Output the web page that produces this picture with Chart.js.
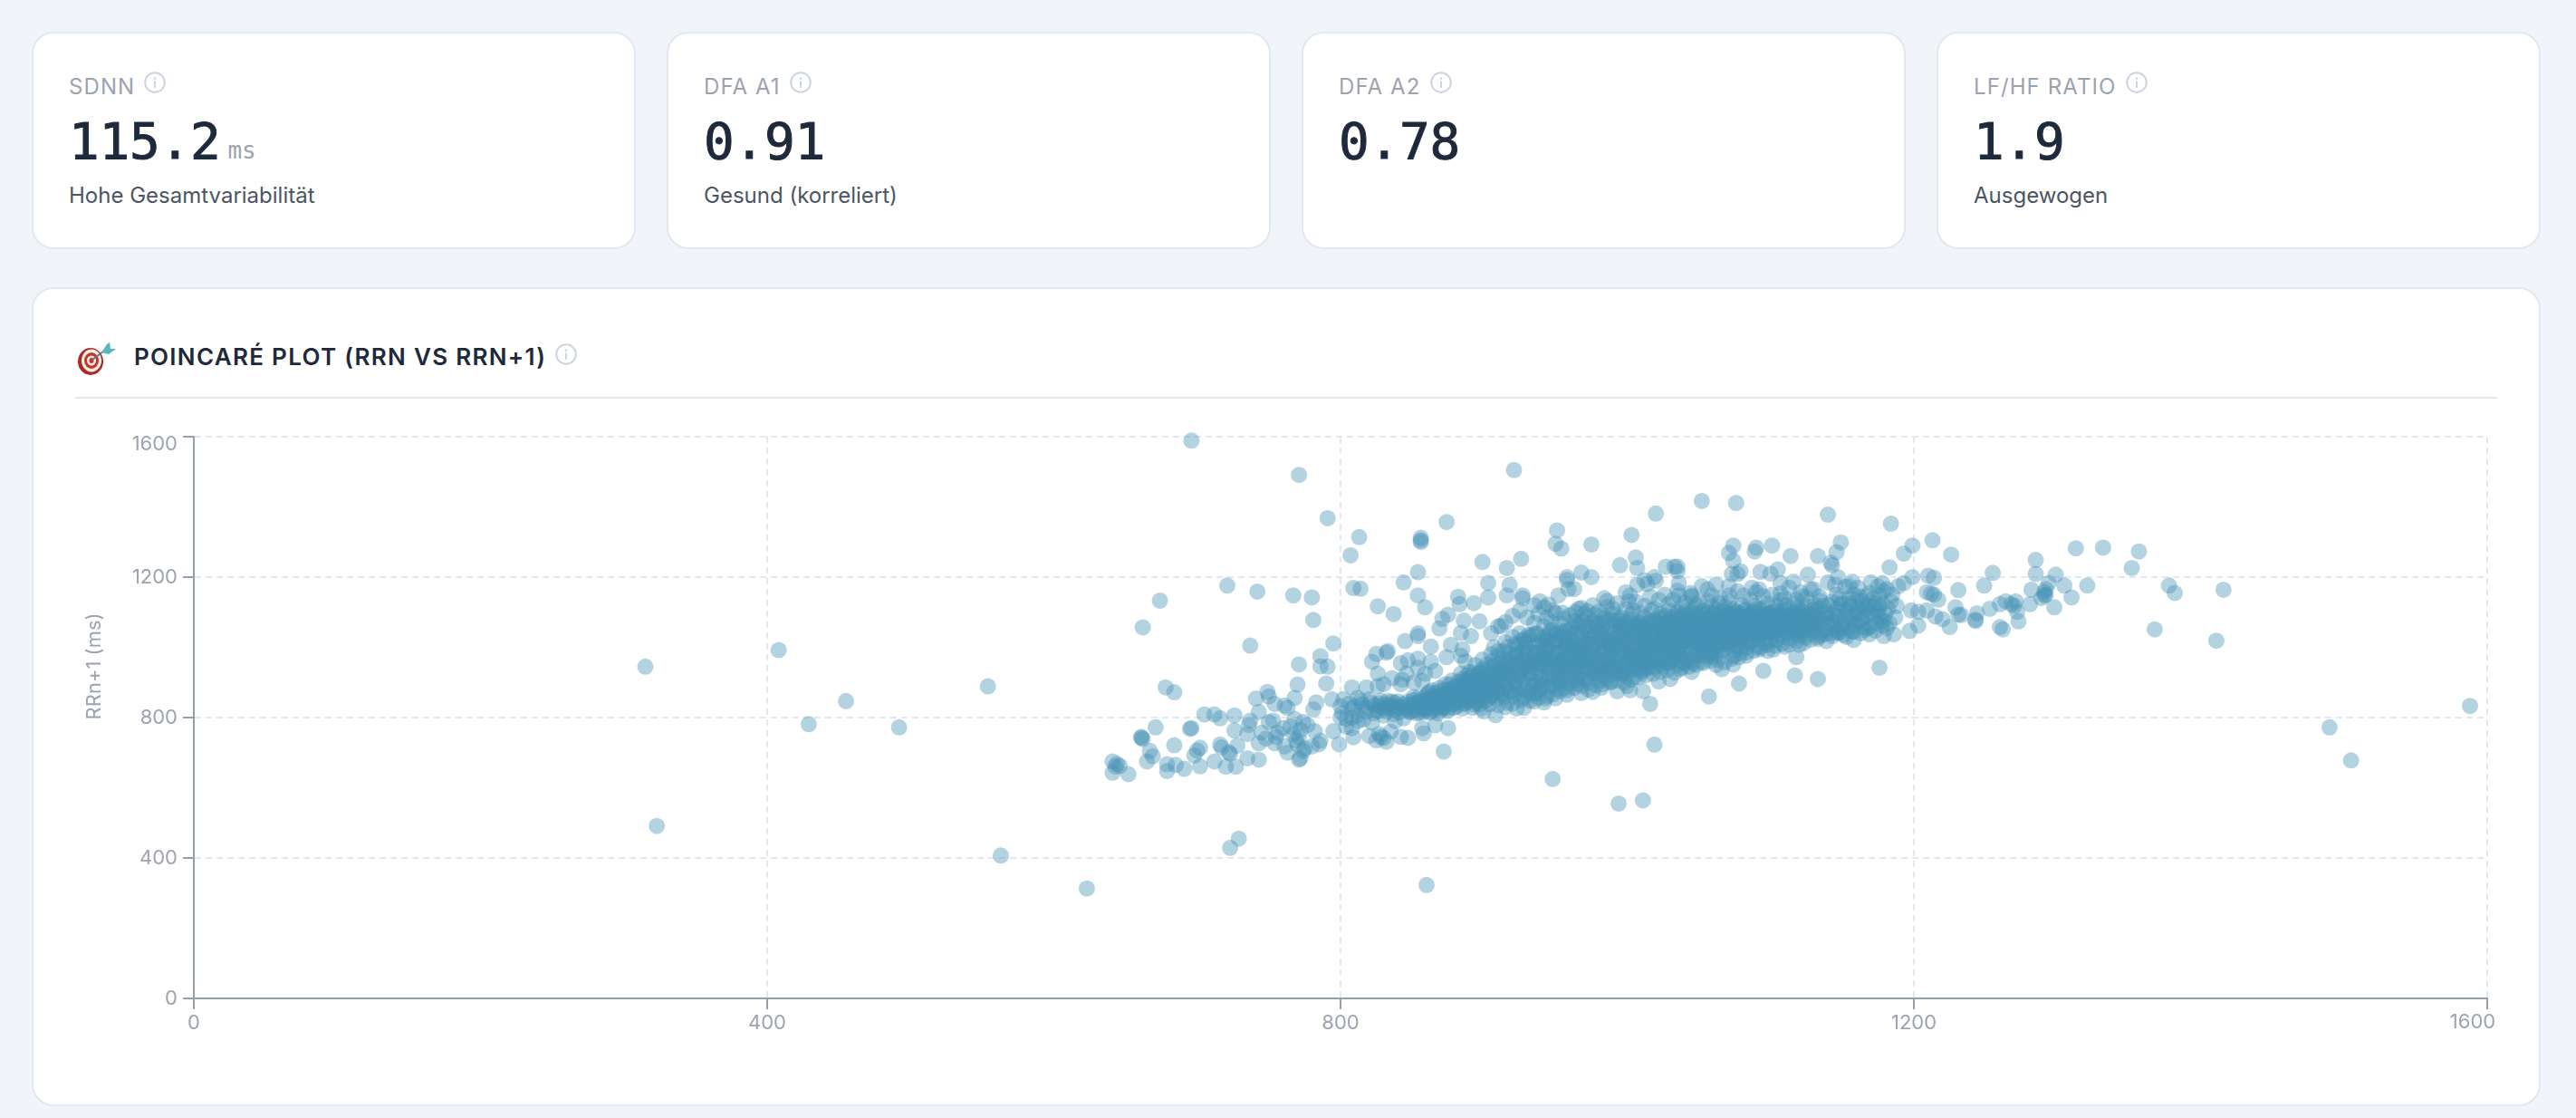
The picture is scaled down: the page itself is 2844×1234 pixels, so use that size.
<!DOCTYPE html>
<html lang="de">
<head>
<meta charset="utf-8">
<title>Poincaré Plot</title>
<script src="https://cdn.jsdelivr.net/npm/chart.js@4"></script>
<style>
  html, body { margin: 0; padding: 0; background: #f1f5f9; width: 2844px; height: 1234px; overflow: hidden; font-family: Inter, sans-serif; }
  .card { position: absolute; top: 35px; width: 667px; height: 240px; box-sizing: border-box; background: #fff; border: 2px solid #e2e8f0; border-radius: 24px; }
  .label { position: absolute; left: 39px; top: 44px; font-size: 24px; line-height: 30px; letter-spacing: 1.1px; color: #9ca3af; white-space: nowrap; }
  .value { position: absolute; left: 39px; top: 86px; font-family: "DejaVu Sans Mono", monospace; font-size: 56px; line-height: 66px; color: #1e293b; -webkit-text-stroke: 1px #1e293b; letter-spacing: -0.2px; white-space: nowrap; }
  .unit { font-size: 26px; color: #9ca3af; -webkit-text-stroke: 0; margin-left: 8px; }
  .sub { position: absolute; left: 39px; top: 164px; font-size: 24px; line-height: 30px; color: #4b5563; white-space: nowrap; }
  .info { position: absolute; width: 24px; height: 24px; }
  .panel { position: absolute; left: 35px; top: 317px; width: 2770px; height: 904px; box-sizing: border-box; background: #fff; border: 2px solid #e2e8f0; border-radius: 24px; }
  .title { position: absolute; left: 148px; top: 378px; font-size: 26px; line-height: 32px; font-weight: 600; letter-spacing: 1.3px; color: #1e293b; white-space: nowrap; }
  .rule { position: absolute; left: 83px; top: 438px; width: 2674px; height: 2px; background: #e2e8f0; }
  canvas { position: absolute; left: 83px; top: 450px; }
</style>
</head>
<body>
<div class="card" style="left:35px"><div class="label">SDNN</div><svg class="info" style="left:122px;top:42px" viewBox="0 0 24 24"><use href="#i"/></svg><div class="value">115.2<span class="unit">ms</span></div><div class="sub">Hohe Gesamtvariabilität</div></div>
<div class="card" style="left:736px"><div class="label">DFA A1</div><svg class="info" style="left:134px;top:42px" viewBox="0 0 24 24"><use href="#i"/></svg><div class="value">0.91</div><div class="sub">Gesund (korreliert)</div></div>
<div class="card" style="left:1437px"><div class="label">DFA A2</div><svg class="info" style="left:140px;top:42px" viewBox="0 0 24 24"><use href="#i"/></svg><div class="value">0.78</div></div>
<div class="card" style="left:2138px"><div class="label">LF/HF RATIO</div><svg class="info" style="left:207px;top:42px" viewBox="0 0 24 24"><use href="#i"/></svg><div class="value">1.9</div><div class="sub">Ausgewogen</div></div>

<div class="panel"></div>
<svg style="position:absolute;left:84px;top:376px" width="46" height="38" viewBox="0 0 46 38">
  <ellipse cx="16" cy="23" rx="14" ry="15" fill="#a92c25"/>
  <ellipse cx="17" cy="22" rx="11" ry="12.5" fill="#f4efe9"/>
  <ellipse cx="17" cy="22" rx="8" ry="9" fill="#c9352c"/>
  <ellipse cx="17" cy="22" rx="5" ry="5.5" fill="#f4efe9"/>
  <ellipse cx="17" cy="22" rx="2.5" ry="3" fill="#c9352c"/>
  <path d="M18 21 L34 9" stroke="#5a7d86" stroke-width="2"/>
  <path d="M28 13 L34 4 L37 2 L38 9 L44 9 L36 15 Z" fill="#5bb5bd"/>
</svg>
<div class="title">POINCARÉ PLOT (RRN VS RRN+1)</div>
<svg class="info" style="left:613px;top:379px" viewBox="0 0 24 24"><use href="#i"/></svg>
<div class="rule"></div>
<svg width="0" height="0" style="position:absolute"><defs><g id="i"><circle cx="12" cy="12" r="10.8" fill="none" stroke="#cbd5e1" stroke-width="2"/><circle cx="12" cy="7.6" r="1.3" fill="#cbd5e1"/><rect x="11" y="10.4" width="2" height="7.4" fill="#cbd5e1"/></g></defs></svg>

<canvas id="poincareChart" width="2680" height="750"></canvas>

<script>
const tickValues = [0, 400, 800, 1200, 1600];

// isolated beats far away from the main cloud
const rrOutliers = [[315,945],[323,491],[408,992],[429,781],[455,847],[492,772],[554,889],[563,407],[623,313],[860,323],[1490,772],[1505,678],[1588,833],
  [696,1589],[771,1491],[791,1368],[921,1505],[1052,1417],[1076,1411],[1020,1381],[874,1357],[813,1314],[807,1262],[856,1305],[856,1312],[856,1300],
  [729,455],[723,429],[948,625],[994,555],[1011,564],[1019,723],[872,703],[1140,1378],[1184,1352],[1368,1051],[1411,1019],[1416,1164],[1378,1176],[1382,1155],[1352,1226],[1357,1273],[1332,1284],[1313,1282],[1176,942]];

// upper scatter left of the band
const rrUpperLeft = [[951,1333],[950,1295],[954,1281],[1003,1320],[975,1293],[899,1243],[926,1252],[916,1226],[854,1214],[844,1185],[809,1169],[814,1167],[721,1176],[742,1159],[674,1133],[662,1057],[767,1148],[780,1142],[781,1078],[737,1005],
  [854,1148],[859,1114],[826,1117],[837,1095],[903,1183],[903,1142],[882,1144],[883,1123],[893,1126],[918,1178],[916,1148],[927,1148],[927,1140],[897,1074],[886,1076],[875,1093],[871,1081],[869,1054],[912,1061],[884,1041],[891,1032],[854,1032],[845,1018],[854,1040],[863,1002],[877,1007],[885,994],[874,972],[884,976],[887,960],
  [958,1200],[968,1213],[975,1200],[958,1192],[959,1166],[963,1166],[984,1140],[986,1132],[952,1148],[939,1131],[935,1120],[942,1114],[964,1101],[977,1093],[995,1234],[1006,1256],[1007,1226],[1027,1230],[1033,1230],[1035,1217],[1019,1200],[1012,1191],[1007,1178],[999,1157],[1036,1183],[1017,1105],[1001,1131],[1029,1123],[1036,1148],[1045,1148],[1052,1174],[1062,1179],[1059,1148],[1035,1230],[1035,1161],[1020,1190],[1014,1180],[1002,1148],
  [945,1122],[948,1106],[955,1098],[968,1112],[972,1104],[990,1110],[1004,1105],[1012,1118],[1022,1135],[1040,1128],[1048,1120],[1056,1132],[1064,1126]];

// scattered lower left tail
const rrLowCluster = [[795,1011],[786,975],[771,951],[786,946],[791,945],[790,897],[770,894],[768,856],[783,843],[781,823],[794,852],[678,886],[684,872],[749,873],[741,854],[750,860],[754,839],[761,834],[763,828],[743,816],[705,809],[712,809],[716,798],[726,806],[737,791],[736,779],[671,772],[695,768],[696,770],[661,742],[661,745],[662,739],[684,721],[726,763],[735,753],[750,787],[753,791],[745,757],[768,796],[774,787],[777,779],[782,761],[786,734],[667,705],[665,675],[669,690],[702,714],[700,706],[698,692],[716,723],[717,715],[722,701],[723,697],[728,720],[735,684],[743,680],[720,660],[727,660],[712,675],[702,661],[691,654],[679,667],[679,648],[685,665],[641,675],[646,662],[643,660],[641,643],[652,639],[644,668],
  [743,727],[754,727],[761,718],[772,684],[771,680],[770,723],[756,757],[767,753],[771,744],[780,718],[785,724],[755,745],[748,740],[760,770],[765,775],[772,765],[769,735],[774,705],[775,712],[763,700],
  [795,761],[799,724],[809,744],[804,774],[808,770],[820,748],[827,753],[832,731],[828,745],[847,742],[857,770],[875,770],[866,778],[858,755],[830,742],[835,760],[812,790],[800,800],[842,745],[825,735]];

// fringe right above and below the entry of the dense band
const rrBandEdge = [[808,886],[818,886],[826,890],[830,895],[822,959],[826,925],[832,985],[825,981],[833,989],[842,955],[847,963],[854,968],[863,959],[843,908],[846,925],[854,942],[859,925],[866,933],[842,895],[851,900],[836,912],[857,905],
  [802,852],[801,813],[812,856],[820,852],[804,796],[800,832],[808,825],[815,838],[823,812],[827,840],[830,825],[832,818],[834,836],[836,845],[838,822],[840,832],[828,830],[833,848],[837,810],[841,815],[825,822],[818,828],[812,806],[808,800],[816,794],[822,786],[838,790],[844,798],
  [1016,839],[1011,875],[908,807],[923,826],[928,828],[942,843],[958,865],[976,873],[993,875],[1002,878],[1022,903],[1057,860],[900,818],[915,830],[935,846],[950,855],[968,870],[982,885],[1000,890],[1030,910],[1045,930],[1037,938],[1052,959],[1074,951],[1083,976],[1092,994],[1102,994],[1110,1002],[1118,972],[1120,1007],[1078,897],[1095,933],[1117,920],[1133,910],[1066,938],[1062,950]];

// loose marks hugging the top of the band
const rrFringeTop = [[905,1040],[910,1060],[915,1072],[920,1090],[925,1105],[930,1085],[935,1070],[938,1095],[942,1060],[944,1085],[947,1072],[950,1098],[953,1068],[956,1082],[960,1092],[963,1075],[966,1110],[970,1095],[973,1085],[976,1120],[980,1102],[983,1090],[986,1115],[990,1095],[993,1125],[996,1085],[999,1108],[1003,1092],[1006,1130],[1009,1098],[1012,1085],[1016,1145],[1019,1110],[1023,1095],[1026,1150],[1029,1105],[1032,1135],[1035,1100],[1038,1118],[1041,1105],[1044,1155],[1047,1112],[1050,1130],[1053,1105],[1056,1165],[1059,1118],[1062,1108],[1065,1140],[1068,1115],[1071,1130],[1074,1110],[1077,1160],[1080,1120],[1083,1108],[1086,1135],[1089,1118],[1092,1165],[1095,1112],[1098,1125],[1101,1150],[1104,1118],[1107,1135],[1110,1120],[1113,1170],[1116,1125],[1119,1115],[1122,1145],[1125,1118],[1128,1165],[1131,1122],[1134,1145],[1137,1118],[1140,1185],[1143,1130],[1146,1150],[1149,1122],[1152,1172],[1155,1125],[1158,1150],[1161,1170],[1164,1118],[1167,1145],[1170,1185],[1173,1125]];

// loose marks under the band and at its left entry
const rrFringeBottom = [[885,826],[892,828],[898,826],[904,838],[910,835],[916,842],[920,840],[926,850],[932,848],[938,856],[943,855],[948,866],[953,875],[958,878],[963,885],[968,890],[973,880],[978,892],[983,895],[988,900],[993,905],[998,900],[1003,908],[1008,915],[1013,920],[1018,925],[1023,930],[1028,935],[1033,928],[1038,942],[1043,945],[1048,950],[1053,955],[1058,962],[1063,965],[1068,958],[1073,968],[1078,972],[1083,985],[1088,990],[1093,1000],[1098,990],[1103,1005],[1108,1010],[1113,1008],[1118,1018],[1123,1012],[1128,1022],[1133,1030],[1138,1038],[1143,1032],[1148,1042],[1153,1030],[1158,1045],[1163,1040],[1168,1055],[1173,1048],[1178,1062],
  [806,840],[810,832],[814,848],[818,818],[821,842],[824,835],[828,848],[831,838],[834,826],[838,842],[841,828],[844,838],[836,830],[840,846],[826,818],[830,806]];

// the solid part of the cloud, read left to right along the band
const rrCore = [[846,822],[848,838],[849,815],[851,850],[852,829],[853,812],[854,844],[855,860],[856,824],[857,836],[858,816],[859,851],
  [860,830],[861,869],[862,814],[863,845],[864,878],[865,822],[866,858],[867,838],[868,812],[869,884],[870,850],[871,828],
  [872,866],[873,895],[874,836],[875,819],[876,880],[877,852],[878,906],[879,828],[880,870],[881,842],[882,892],[883,858],
  [884,925],[885,838],[886,880],[887,905],[888,862],[889,845],[890,930],[891,892],[892,872],[893,838],[884,855],[887,840],[889,912],[892,918],
  [894,950],[895,860],[896,905],[897,838],[898,885],[899,965],[900,925],[901,848],[902,872],[903,940],[904,900],[905,980],[895,842],[898,930],[901,890],[904,855],
  [906,862],[907,945],[908,912],[909,852],[910,990],[911,880],[912,925],[913,968],[914,858],[915,1015],[916,895],[917,945],[918,872],[907,1000],[909,900],[911,955],[913,870],[915,935],[917,985],[919,915],
  [920,1030],[921,860],[922,905],[923,960],[924,880],[925,1040],[926,930],[927,992],[928,858],[929,1015],[930,895],[931,950],[932,870],[921,975],[923,1005],[925,920],[927,885],[929,945],[931,1035],[933,910],[922,868],[926,1020],[928,965],[930,1000],
  [934,865],[935,985],[936,1040],[937,920],[938,875],[939,1010],[940,950],[941,895],[942,1030],[943,968],[944,862],[945,925],[946,1045],[935,905],[937,955],[939,882],[941,1000],[943,1022],[945,940],[934,1035],[936,870],[938,990],[940,912],[942,975],[944,1005],[946,888],
  [947,935],[948,1050],[949,895],[950,985],[951,1015],[952,905],[953,960],[954,1040],[955,920],[956,1000],[957,885],[958,945],[959,1028],[960,972],[948,915],[950,1035],[952,955],[954,898],[956,1045],[958,1010],[949,970],[951,882],[953,1022],[955,945],[957,992],[959,912],[960,1048],
  [961,925],[962,1055],[963,985],[964,905],[965,1035],[966,955],[967,1068],[968,915],[969,1005],[970,975],[971,935],[972,1045],[973,900],[974,1020],[975,960],[962,1015],[964,1072],[966,895],[968,1040],[970,945],[972,990],[974,1060],[963,925],[965,960],[967,1000],[969,1075],[971,912],[973,1030],
  [976,1075],[977,925],[978,1005],[979,960],[980,1050],[981,905],[982,985],[983,1062],[984,935],[985,1025],[986,910],[987,975],[988,1078],[989,950],[990,1040],[977,1035],[979,915],[981,1068],[983,995],[985,945],[987,1015],[989,902],[976,970],[978,1058],[980,930],[982,1022],[984,1082],[986,955],[988,1002],[990,920],
  [991,1075],[992,965],[993,1035],[994,925],[995,1005],[996,1062],[997,945],[998,985],[999,918],[1000,1050],[1001,975],[1002,1078],[1003,935],[1004,1020],[1005,955],[992,1010],[994,1082],[996,1040],[998,930],[1000,1000],[1002,960],[1004,1065],[991,940],[993,995],[995,1055],[997,922],[999,1028],[1001,1070],[1003,985],[1005,915],
  [1006,1040],[1007,950],[1008,1070],[1009,990],[1010,930],[1011,1020],[1012,965],[1013,1055],[1014,940],[1015,1005],[1016,1075],[1017,975],[1018,1035],[1019,945],[1020,1012],[1007,1062],[1009,935],[1011,985],[1013,1025],[1015,955],[1017,1048],[1019,1078],[1006,970],[1008,1015],[1010,1060],[1012,938],[1014,1000],[1016,960],[1018,1068],[1020,980],
  [1021,1045],[1022,960],[1023,1085],[1024,1010],[1025,945],[1026,1060],[1027,985],[1028,1030],[1029,955],[1030,1078],[1031,1000],[1032,970],[1033,1050],[1034,1090],[1035,950],[1022,1022],[1024,975],[1026,1002],[1028,1070],[1030,958],[1032,1038],[1034,990],[1021,1072],[1023,950],[1025,1040],[1027,1090],[1029,1015],[1031,965],[1033,1080],[1035,1025],
  [1036,1065],[1037,975],[1038,1095],[1039,1015],[1040,955],[1041,1048],[1042,1085],[1043,990],[1044,1030],[1045,962],[1046,1072],[1047,1005],[1048,1098],[1049,1042],[1050,978],[1037,1035],[1039,1082],[1041,968],[1043,1060],[1045,1018],[1047,1090],[1049,985],[1036,998],[1038,958],[1040,1075],[1042,1025],[1044,1100],[1046,955],[1048,1052],[1050,1012],
  [1051,1095],[1052,985],[1053,1045],[1054,1075],[1055,975],[1056,1020],[1057,1100],[1058,1060],[1059,990],[1060,1035],[1061,1088],[1062,978],[1063,1010],[1064,1068],[1065,1048],[1052,1030],[1054,1002],[1056,1082],[1058,982],[1060,1098],[1062,1055],[1064,995],[1051,1065],[1053,1015],[1055,1092],[1057,1040],[1059,972],[1061,1025],[1063,1078],[1065,1005],
  [1066,1100],[1067,990],[1068,1060],[1069,1030],[1070,1085],[1071,1000],[1072,1045],[1073,1105],[1074,975],[1075,1070],[1076,1018],[1077,1092],[1078,1038],[1079,985],[1080,1058],[1067,1078],[1069,1008],[1071,1095],[1073,1050],[1075,992],[1077,1025],[1079,1082],[1066,1040],[1068,1102],[1070,1015],[1072,1068],[1074,1035],[1076,1100],[1078,1000],[1080,1088],
  [1081,1030],[1082,1105],[1083,1000],[1084,1065],[1085,1090],[1086,1015],[1087,1048],[1088,1100],[1089,1028],[1090,1075],[1091,1002],[1092,1058],[1093,1108],[1094,1038],[1095,1085],[1096,1012],[1097,1070],[1098,1045],[1099,1098],[1100,1022],[1082,1050],[1084,1020],[1086,1080],[1088,1040],[1090,1110],[1092,1025],[1094,1068],[1096,1095],[1098,1008],[1100,1060],
  [1101,1085],[1102,1040],[1103,1105],[1104,1020],[1105,1072],[1106,1052],[1107,1095],[1108,1030],[1109,1080],[1110,1108],[1111,1045],[1112,1062],[1113,1025],[1114,1098],[1115,1075],[1116,1040],[1117,1055],[1118,1105],[1119,1032],[1120,1085],[1121,1065],[1122,1042],[1123,1100],[1124,1028],[1125,1078],[1126,1050],[1127,1095],[1128,1038],[1129,1070],[1130,1108],
  [1131,1045],[1132,1090],[1133,1060],[1134,1112],[1135,1035],[1136,1078],[1137,1100],[1138,1050],[1139,1085],[1140,1068],[1141,1120],[1142,1040],[1143,1095],[1144,1058],[1145,1075],[1146,1110],[1147,1048],[1148,1088],[1149,1065],[1150,1125],[1151,1035],[1152,1080],[1153,1100],[1154,1055],[1155,1072],[1156,1118],[1157,1045],[1158,1092],[1159,1062],[1160,1105]];

// more beats in the same band, where single marks can no longer be told apart
const rrCoreDense = [[845,828],[847,846],[848,818],[850,835],[851,858],[852,821],[853,840],[855,814],[856,850],[857,830],
  [859,824],[860,862],[861,840],[862,873],[863,818],[864,852],[865,832],[866,868],[867,826],[868,846],[869,874],[870,820],
  [871,860],[872,838],[873,880],[874,848],[875,826],[876,895],[877,866],[878,840],[879,884],[880,856],[881,832],[882,902],
  [883,874],[884,846],[885,910],[886,856],[887,888],[888,920],[889,866],[890,850],[891,904],[892,880],[893,928],[894,862],[895,892],[896,848],
  [897,912],[898,870],[899,938],[900,856],[901,900],[902,950],[903,880],[904,922],[905,862],[906,962],[907,892],[908,932],[909,874],[910,975],
  [911,908],[912,868],[913,945],[914,990],[915,885],[916,925],[917,1002],[918,960],[919,875],[920,940],[921,898],[922,1010],[923,982],[924,918],[925,868],
  [926,965],[927,905],[928,1022],[929,878],[930,985],[931,928],[932,1030],[933,952],[934,890],[935,1008],[936,940],[937,1038],[938,900],[939,972],[940,882],
  [941,1020],[942,945],[943,905],[944,995],[945,1035],[946,915],[947,970],[948,888],[949,1012],[950,950],[951,1042],[952,925],[953,988],[954,910],[955,1028],[956,965],
  [957,1048],[958,930],[959,1002],[960,895],[961,980],[962,1038],[963,945],[964,1012],[965,915],[966,1058],[967,968],[968,935],[969,1025],[970,990],[971,1060],[972,910],
  [973,955],[974,1040],[975,925],[976,1008],[977,972],[978,1068],[979,938],[980,1018],[981,945],[982,1048],[983,925],[984,988],[985,1072],[986,935],[987,1032],[988,962],
  [989,1060],[990,935],[991,1005],[992,1045],[993,958],[994,1075],[995,975],[996,930],[997,1022],[998,1068],[999,950],[1000,1012],[1001,942],[1002,1038],[1003,1060],[1004,975],
  [1005,1032],[1006,945],[1007,1002],[1008,1052],[1009,968],[1010,1072],[1011,950],[1012,1030],[1013,990],[1014,1062],[1015,958],[1016,1018],[1017,1075],[1018,942],[1019,1048],[1020,995],
  [1021,962],[1022,1068],[1023,1010],[1024,1050],[1025,978],[1026,1082],[1027,955],[1028,1042],[1029,1000],[1030,1058],[1031,1085],[1032,970],[1033,1028],[1034,1065],[1035,980],[1036,1045],
  [1037,1085],[1038,985],[1039,1048],[1040,1020],[1041,965],[1042,1060],[1043,1092],[1044,1002],[1045,1068],[1046,1035],[1047,975],[1048,1080],[1049,1012],[1050,1058],[1051,1025],[1052,1090],
  [1053,995],[1054,1048],[1055,1068],[1056,1005],[1057,1085],[1058,1030],[1059,1062],[1060,990],[1061,1050],[1062,1095],[1063,1035],[1064,1008],[1065,1080],[1066,1022],[1067,1058],[1068,1090],
  [1069,1048],[1070,1010],[1071,1070],[1072,1095],[1073,1020],[1074,1060],[1075,1085],[1076,1040],[1077,1005],[1078,1072],[1079,1098],[1080,1030],[1081,1062],[1082,1088],[1083,1045],[1084,1015],
  [1085,1070],[1086,1095],[1087,1025],[1088,1060],[1089,1082],[1090,1040],[1091,1098],[1092,1070],[1093,1035],[1094,1088],[1095,1052],[1096,1075],[1097,1030],[1098,1092],[1099,1062],[1100,1045],
  [1101,1100],[1102,1068],[1103,1048],[1104,1088],[1105,1035],[1106,1078],[1107,1058],[1108,1100],[1109,1045],[1110,1072],[1111,1092],[1112,1040],[1113,1060],[1114,1082],[1115,1052],[1116,1098],
  [1117,1070],[1118,1045],[1119,1090],[1120,1058],[1121,1102],[1122,1075],[1123,1048],[1124,1085],[1125,1062],[1126,1100],[1127,1052],[1128,1078],[1129,1092],[1130,1060],[1131,1072],[1132,1104],
  [1134,1078],[1137,1060],[1140,1098],[1143,1075],[1146,1090],[1149,1055],[1152,1108],[1155,1085],[1158,1068],[1161,1095],[1164,1078],[1167,1110],[1170,1060],[1173,1090],[1176,1120],[1179,1075]];

// centre line of the band
const rrCoreCentre = [[858,838],[862,846],[865,856],[868,840],[871,852],[874,866],[877,858],[880,874],[883,862],[886,890],[889,878],[892,898],[895,884],[898,908],[901,892],[904,918],[907,902],[910,930],[913,910],[916,945],[919,920],[922,955],[925,935],[928,975],[931,945],[934,960],[937,985],[940,948],[943,975],[946,1000],[949,960],[952,985],[955,945],[958,1010],[961,965],[964,990],[967,955],[970,1015],[973,975],[976,995],[979,945],[982,1025],[985,985],[988,1005],[991,960],[994,1030],[997,990],[1000,1012],[1003,970],[1006,1035],[1009,1000],[1012,1018],[1015,985],[1018,1040],[1021,1005],[1024,1028],[1027,995],[1030,1048],[1033,1012],[1036,1030],[1039,1000],[1042,1052],[1045,1025],[1048,1040],[1051,1010],[1054,1060],[1057,1030],[1060,1050],[1063,1022],[1066,1068],[1069,1038],[1072,1055],[1075,1030],[1078,1065],[1081,1042],[1084,1070],[1087,1050],[1090,1062],[1093,1078],[1096,1048],[1099,1072],[1102,1055],[1105,1085],[1108,1062],[1111,1075],[1114,1058],[1117,1088],[1120,1070],
  [860,826],[863,858],[866,842],[869,862],[872,828],[875,878],[878,850],[881,890],[884,868],[887,852],[890,905],[893,872],[896,925],[899,888],[902,912],[905,878],[908,950],[911,925],[914,900],[917,968],[920,915],[923,980],[926,940],[929,1000],[932,925],[935,965],[938,945],[941,975],[944,1015],[947,955],[950,1020],[953,930],[956,975],[959,950],[962,1002],[965,938],[968,988],[971,962],[974,1010],[977,945],[980,988],[983,1035],[986,968],[989,1012],[992,948],[995,992],[998,1038],[1001,965],[1004,1000],[1007,1048],[1010,980],[1013,1008],[1016,1042],[1019,968],[1022,1012],[1025,1060],[1028,990],[1031,1030],[1034,1072],[1037,1005],[1040,1052],[1043,1025],[1046,1062],[1049,1000],[1052,1042],[1055,1078],[1058,1015],[1061,1068],[1064,1040],[1067,1015],[1070,1072],[1073,1040],[1076,1062],[1079,1020],[1082,1078],[1085,1040],[1088,1085],[1091,1052],[1094,1070],[1097,1088],[1100,1050],[1103,1075],[1106,1095],[1109,1060],[1112,1088],[1115,1068],[1118,1082],[1121,1050]];

// above the band and the thinning right tail
const rrUpperRight = [[1074,1290],[1071,1269],[1089,1273],[1090,1284],[1101,1290],[1114,1260],[1133,1260],[1149,1299],[1146,1271],[1143,1234],[1142,1241],[1074,1247],[1073,1209],[1079,1217],[1077,1209],[1093,1215],[1100,1210],[1105,1222],[1126,1207],[1116,1187],[1107,1183],[1130,1166],[1107,1153],[1121,1157],[1147,1200],[1145,1178],[1157,1187],[1155,1174],
  [1071,1174],[1090,1157],[1081,1148],[1087,1170],[1045,1144],[1071,1148],[1095,1145],[1110,1140],[1118,1135],[1125,1142],[1135,1132],[1148,1138],[1160,1135],
  [1213,1305],[1199,1290],[1193,1267],[1226,1264],[1183,1228],[1210,1204],[1214,1198],[1199,1200],[1193,1183],[1189,1174],[1178,1183],[1209,1157],[1212,1153],[1214,1150],[1217,1136],[1231,1163],[1255,1212],[1249,1176],
  [1285,1249],[1285,1209],[1299,1207],[1294,1183],[1305,1176],[1282,1164],[1321,1176],[1310,1142],[1298,1114],[1281,1123],[1291,1157],[1292,1150],[1291,1148],[1292,1166],[1289,1140],
  [1264,1131],[1271,1131],[1268,1123],[1270,1118],[1260,1123],[1253,1110],[1273,1074],[1272,1101],[1260,1058],[1262,1051],[1243,1075],[1243,1079],[1244,1097],[1231,1093],[1229,1114],[1233,1092],[1225,1058],[1220,1080],[1215,1088],[1209,1105],[1203,1101],[1198,1105],[1203,1062],[1197,1047],[1186,1037],[1179,1032],[1169,1037],[1158,1021],[1164,1058],[1147,1041],[1139,1018],[1133,1024],
  [1176,1148],[1181,1166],[1175,1174],[1184,1131],[1188,1118],[1175,1105],[1176,1088],[1164,1131],[1155,1140],[1167,1088],[1161,1112],[1163,1078],[1166,1050],[1168,1120],[1170,1098],[1172,1140],[1174,1070],[1178,1125],[1180,1095],[1182,1110],[1185,1150],[1187,1085],[1183,1068],[1169,1155],[1172,1115],[1177,1075],[1179,1160],[1181,1055],[1165,1100],[1162,1145]];

const chartData = [...rrOutliers, ...rrLowCluster, ...rrUpperLeft, ...rrBandEdge, ...rrFringeTop, ...rrFringeBottom, ...rrCore, ...rrCoreDense, ...rrCoreCentre, ...rrUpperRight];

// labels at the axis ends sit inside the plot corner instead of centred on their tick,
// and the y title is placed above the middle of the axis
const edgeLabels = {
  id: 'edgeLabels',
  afterDraw(chart) {
    const { ctx, scales: { x, y } } = chart;
    ctx.save();
    ctx.font = '22px Inter';
    ctx.fillStyle = '#9ca3af';
    ctx.textBaseline = 'middle';
    ctx.textAlign = 'right';
    ctx.fillText('1600', x.getPixelForValue(0) - 18, y.getPixelForValue(1600) + 8);
    ctx.textAlign = 'center';
    ctx.fillText('1600', x.getPixelForValue(1600) - 16, y.getPixelForValue(0) + 26);
    ctx.translate(21, y.getPixelForValue(946));
    ctx.rotate(-Math.PI / 2);
    ctx.fillText('RRn+1 (ms)', 0, 0);
    ctx.restore();
  }
};

const axisBase = {
  min: 0,
  max: 1600,
  afterBuildTicks: scale => { scale.ticks = tickValues.map(value => ({ value })); },
  border: { color: '#94a0ae', width: 2, dash: [7, 5] },
  grid: { color: '#e2e8f0', lineWidth: 2, tickColor: '#94a0ae', tickWidth: 2, tickLength: 12, tickBorderDash: [] }
};

new Chart(document.getElementById('poincareChart'), {
  type: 'scatter',
  data: {
    datasets: [{
      label: 'RRn vs RRn+1',
      data: chartData.map(([x, y]) => ({ x, y })),
      backgroundColor: 'rgba(67, 145, 181, 0.4)',
      borderWidth: 0,
      pointRadius: 9,
      clip: false
    }]
  },
  options: {
    responsive: false,
    animation: false,
    devicePixelRatio: 1,
    layout: { padding: { top: 32, right: 17, left: 0, bottom: 0 } },
    plugins: { legend: { display: false }, tooltip: { enabled: false } },
    scales: {
      x: {
        ...axisBase,
        afterFit: scale => { scale.height = 98; },
        ticks: {
          color: '#9ca3af', font: { family: 'Inter', size: 22 }, padding: 2, maxRotation: 0, autoSkip: false,
          callback: value => (value === 1600 ? '' : value)
        }
      },
      y: {
        ...axisBase,
        afterFit: scale => { scale.width = 131; },
        ticks: {
          color: '#9ca3af', font: { family: 'Inter', size: 22 }, padding: 6, autoSkip: false,
          callback: value => (value === 1600 ? '' : value)
        }
      }
    }
  },
  plugins: [edgeLabels]
});
</script>
</body>
</html>
